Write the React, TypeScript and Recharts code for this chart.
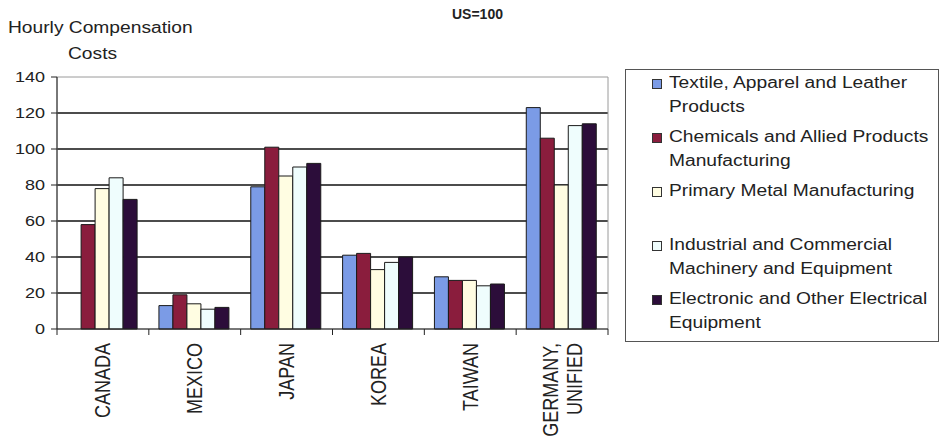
import React from 'react';
import { BarChart, Bar, XAxis, YAxis, CartesianGrid, ReferenceArea } from 'recharts';

const CATEGORIES = ['CANADA', 'MEXICO', 'JAPAN', 'KOREA', 'TAIWAN', 'GERMANY,\nUNIFIED'];

const TEXTILE = [null, 13, 79, 41, 29, 123];
const CHEMICALS = [58, 19, 101, 42, 27, 106];
const PRIMARY_METAL = [78, 14, 85, 33, 27, 80];
const INDUSTRIAL = [84, 11, 90, 37, 24, 113];
const ELECTRONIC = [72, 12, 92, 40, 25, 114];

const Y_TICKS = [0, 20, 40, 60, 80, 100, 120, 140];

const SERIES = [
  { key: 'textile', label: 'Textile, Apparel and Leather\nProducts', color: '#7b9be6', values: TEXTILE },
  { key: 'chemicals', label: 'Chemicals and Allied Products\nManufacturing', color: '#8a1d3d', values: CHEMICALS },
  { key: 'primary', label: 'Primary Metal Manufacturing\n\u00a0', color: '#fffde2', values: PRIMARY_METAL },
  { key: 'industrial', label: 'Industrial and Commercial\nMachinery and Equipment', color: '#effdfd', values: INDUSTRIAL },
  { key: 'electronic', label: 'Electronic and Other Electrical\nEquipment', color: '#2c0d3a', values: ELECTRONIC },
];

const data = CATEGORIES.map((name, i) => {
  const row: Record<string, string | number | null> = { name };
  SERIES.forEach((s) => {
    row[s.key] = s.values[i];
  });
  return row;
});

const FONT = '"Liberation Sans", Arial, sans-serif';
const INK = '#222';
// the scanned original is stretched sideways a little
const STRETCH = 1.2;

function YTick(props: any) {
  const { x, y, payload } = props;
  return (
    <text
      x={x}
      y={y}
      textAnchor="end"
      dominantBaseline="central"
      fontSize={15}
      fontFamily={FONT}
      fill={INK}
      transform={`translate(${x},${y}) scale(${STRETCH},1) translate(${-x},${-y})`}
    >
      {payload.value}
    </text>
  );
}

function XTick(props: any) {
  const { x, y, payload, width, visibleTicksCount, index } = props;
  const half = width / visibleTicksCount / 2;
  const lines = String(payload.value).split('\n');
  const axisY = y - 8;
  return (
    <g>
      <line x1={x - half} y1={axisY} x2={x - half} y2={axisY + 6} stroke={INK} />
      {index === visibleTicksCount - 1 && (
        <line x1={x + half} y1={axisY} x2={x + half} y2={axisY + 6} stroke={INK} />
      )}
      <g transform={`translate(${x},${y + 6}) scale(${STRETCH},1) rotate(-90)`}>
        <text x={0} y={0} textAnchor="end" fontSize={18} fontFamily={FONT} fill={INK}>
          {lines.map((ln, i) => (
            <tspan
              key={i}
              x={0}
              dy={i === 0 ? `${0.35 - (lines.length - 1) * 0.55}em` : '1.1em'}
            >
              {ln}
            </tspan>
          ))}
        </text>
      </g>
    </g>
  );
}

function LegendBox() {
  return (
    <div
      style={{
        position: 'absolute',
        left: 625,
        top: 69,
        width: 314,
        height: 273,
        border: '1px solid #555',
        boxSizing: 'border-box',
        paddingTop: 1,
      }}
    >
      {SERIES.map((s) => (
        <div key={s.key} style={{ position: 'relative', height: 47, marginBottom: 7 }}>
          <span
            style={{
              position: 'absolute',
              left: 26,
              top: 8,
              width: 8,
              height: 8,
              background: s.color,
              border: '1px solid #333',
            }}
          />
          <div
            style={{
              position: 'absolute',
              left: 43,
              top: 0,
              fontSize: 16,
              lineHeight: '23.5px',
              whiteSpace: 'pre',
              color: INK,
              transform: `scaleX(${STRETCH})`,
              transformOrigin: 'left top',
            }}
          >
            {s.label}
          </div>
        </div>
      ))}
    </div>
  );
}

export default function App() {
  return (
    <div
      style={{
        position: 'absolute',
        left: 0,
        top: 0,
        width: 941,
        height: 440,
        background: '#fff',
        fontFamily: FONT,
        overflow: 'hidden',
      }}
    >
      <div
        style={{
          position: 'absolute',
          left: 8,
          top: 15,
          fontSize: 16,
          color: INK,
          transform: `scaleX(${STRETCH})`,
          transformOrigin: 'left top',
          lineHeight: '26px',
        }}
      >
        Hourly Compensation
        <br />
        <span style={{ marginLeft: 50 }}>Costs</span>
      </div>
      <div
        style={{
          position: 'absolute',
          left: 452,
          top: 6,
          fontSize: 14,
          fontWeight: 'bold',
          color: INK,
        }}
      >
        US=100
      </div>

      <BarChart
        width={941}
        height={440}
        data={data}
        margin={{ top: 77, right: 333, bottom: 0, left: 0 }}
        barCategoryGap="11%"
        barGap={0}
        style={{ position: 'absolute', left: 0, top: 0 }}
      >
        <CartesianGrid vertical={false} horizontalValues={[20, 40, 60, 80, 100, 120]} stroke="#111" strokeWidth={1.4} />
        <ReferenceArea y1={0} y2={140} fill="none" stroke="#9a9a9a" ifOverflow="visible" />
        <YAxis
          width={57}
          domain={[0, 140]}
          ticks={Y_TICKS}
          interval={0}
          tickSize={6}
          tickMargin={6}
          axisLine={{ stroke: INK }}
          tickLine={{ stroke: INK }}
          tick={<YTick />}
        />
        <XAxis
          dataKey="name"
          height={111}
          interval={0}
          tickSize={6}
          tickMargin={2}
          tickLine={false}
          axisLine={{ stroke: INK }}
          tick={<XTick />}
        />
        {SERIES.map((s) => (
          <Bar
            key={s.key}
            dataKey={s.key}
            name={s.label}
            fill={s.color}
            stroke="#1a1a1a"
            strokeWidth={1}
            isAnimationActive={false}
          />
        ))}
      </BarChart>
      <LegendBox />
    </div>
  );
}
